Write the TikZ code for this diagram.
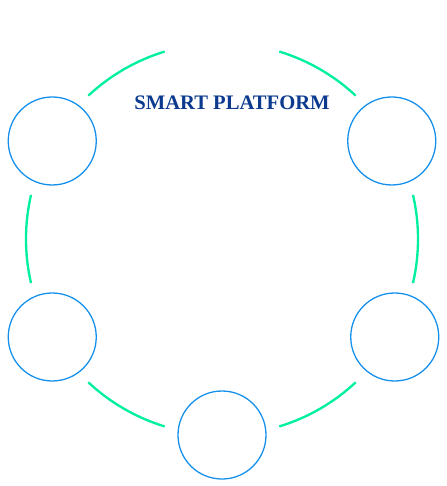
\documentclass[tikz,border=0pt]{standalone}
\usepackage{fontspec}
\setmainfont{Liberation Serif}
\definecolor{hubblue}{HTML}{1490EC}
\definecolor{ringgreen}{HTML}{00F0A0}
\definecolor{titleblue}{HTML}{0B3A8E}
\tikzset{
	hub/.style={circle, draw=hubblue, line width=1.1pt, minimum size=2.64cm, inner sep=0pt},
	ring/.style={ringgreen, line width=2pt},
}
\begin{document}
\begin{tikzpicture}[x=0.03cm, y=0.03cm]
		\useasboundingbox (0,0) rectangle (446,486);
		\coordinate (ctr) at (222,247);

		% ring pieces between the hubs
		\foreach \a in {0,60,...,300}
			\draw[ring] ([shift={(\a-13:5.88cm)}]ctr) arc (\a-13:\a+13:5.88cm);

		% hubs, the one at the top is left out
		\node[hub] (hubNE) at ([shift={(30:5.88cm)}]ctr) {};
		\node[hub] (hubNW) at ([shift={(150:5.88cm)}]ctr) {};
		\node[hub] (hubSW) at ([shift={(210:5.88cm)}]ctr) {};
		\node[hub] (hubS) at ([shift={(270:5.88cm)}]ctr) {};
		\node[hub, xshift=0.09cm] (hubSE) at ([shift={(330:5.88cm)}]ctr) {};

		\node[text=titleblue, font=\fontsize{17.6}{20}\selectfont\bfseries] (title) at (232,383) {SMART PLATFORM};

	\end{tikzpicture}
\end{document}
